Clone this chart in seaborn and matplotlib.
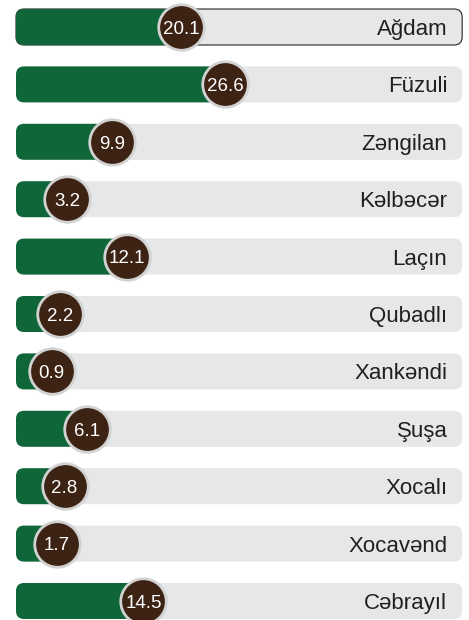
import numpy as np
import pandas as pd
import matplotlib
matplotlib.use("Agg")
import matplotlib.pyplot as plt
from matplotlib.patches import FancyBboxPatch
import seaborn as sns

regions = ["Ağdam", "Füzuli", "Zəngilan", "Kəlbəcər", "Laçın", "Qubadlı",
           "Xankəndi", "Şuşa", "Xocalı", "Xocavənd", "Cəbrayıl"]
values = [20.1, 26.6, 9.9, 3.2, 12.1, 2.2, 0.9, 6.1, 2.8, 1.7, 14.5]

GREEN = "#0F6638"
GRAY = "#E6E7E9"
BROWN = "#3D2314"
RING = "#D2D2D2"
TEXT = "#231F20"

# layout constants (axis units)
BASE = 4.4       # offset of the bar start before value zero
FULL = 66.2      # full track length
PXX = 6.74       # pixels per x unit
PXY = 57.4       # pixels per row

sns.set_theme(style="white")
plt.rcParams["font.family"] = ["Liberation Sans", "DejaVu Sans"]

df = pd.DataFrame({"region": regions, "value": values})
df["pos"] = df["value"] + BASE
df["full"] = FULL
df["idx"] = np.arange(len(df))

fig = plt.figure(figsize=(4.69, 6.2), dpi=100)
ax = fig.add_axes([0, 0, 1, 1])

bw = 0.627
sns.barplot(data=df, y="idx", x="full", orient="h", color=GRAY, saturation=1,
            width=bw, ax=ax, order=list(range(len(df))))
n_gray = len(ax.patches)
sns.barplot(data=df, y="idx", x="pos", orient="h", color=GREEN, saturation=1,
            width=bw, ax=ax, order=list(range(len(df))))

# round the bars
aspect = PXX / PXY
patches = list(ax.patches)
for k, p in enumerate(patches):
    x0, y0 = p.get_x(), p.get_y()
    w, h = p.get_width(), p.get_height()
    fc = p.get_facecolor()
    p.remove()
    ec = "none"
    lw = 0
    if k == 0:
        ec = "#3A3A3A"
        lw = 0.9
    fb = FancyBboxPatch((x0, y0), w, h,
                        boxstyle="round,pad=0,rounding_size=1.2",
                        mutation_aspect=aspect, facecolor=fc, edgecolor=ec,
                        linewidth=lw, zorder=2 if k < n_gray else 3)
    ax.add_patch(fb)

sns.scatterplot(data=df, x="pos", y="idx", s=1075, color=BROWN,
                edgecolor=RING, linewidth=2.0, zorder=5, ax=ax, legend=False)

for i, (r, v) in enumerate(zip(regions, values)):
    ax.text(v + BASE, i + 0.12, f"{v}", ha="center", va="baseline",
            color="white", fontsize=13.5, zorder=6)
    ax.text(FULL - 2.2, i + 0.14, r, ha="right", va="baseline",
            color=TEXT, fontsize=16, zorder=6)

ax.set_xlim(-16 / PXX, (469 - 16) / PXX)
ax.set_ylim((620 - 27) / PXY, -27 / PXY)
ax.axis("off")

fig.savefig("out.png", dpi=100)
